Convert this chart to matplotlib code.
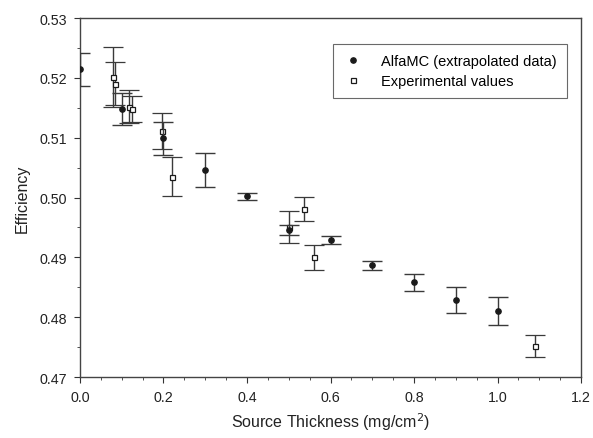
import matplotlib
matplotlib.use("Agg")
import matplotlib.pyplot as plt
from matplotlib.lines import Line2D
from matplotlib.ticker import MultipleLocator, FormatStrFormatter

plt.rcParams['font.family'] = ['Liberation Sans', 'DejaVu Sans']

# AlfaMC (extrapolated data)
mc_x = [0.0, 0.1, 0.2, 0.3, 0.4, 0.5, 0.6, 0.7, 0.8, 0.9, 1.0]
mc_y = [0.5214, 0.5148, 0.5099, 0.5046, 0.5002, 0.4946, 0.4929, 0.4887, 0.4858, 0.4829, 0.4810]
mc_err = [0.0028, 0.0027, 0.0028, 0.0029, 0.0006, 0.0008, 0.0006, 0.00075, 0.0014, 0.0022, 0.0023]

# Experimental values
exp_x = [0.08, 0.083, 0.117, 0.124, 0.197, 0.22, 0.50, 0.537, 0.56, 1.09]
exp_y = [0.5201, 0.5190, 0.5152, 0.5148, 0.5111, 0.5035, 0.4951, 0.4981, 0.4900, 0.4752]
exp_err = [0.0050, 0.0036, 0.0028, 0.0022, 0.0030, 0.0033, 0.0027, 0.0020, 0.0021, 0.0019]

ink = "#1a1a1a"

fig = plt.figure(figsize=(5.93, 4.39), dpi=100)
ax = fig.add_axes([0.1349, 0.1389, 0.8449, 0.8178])

ax.errorbar(exp_x, exp_y, yerr=exp_err, fmt="s", ms=3.6, mfc="white", mec=ink, mew=0.9,
            ecolor="#3a3a3a", elinewidth=1.0, capsize=7.5, capthick=1.0, zorder=3)
ax.errorbar(mc_x, mc_y, yerr=mc_err, fmt="o", ms=3.8, mfc=ink, mec=ink,
            ecolor="#3a3a3a", elinewidth=1.0, capsize=7.5, capthick=1.0, zorder=4)

ax.set_xlim(0, 1.2)
ax.set_ylim(0.47, 0.53)
ax.xaxis.set_major_locator(MultipleLocator(0.2))
ax.xaxis.set_minor_locator(MultipleLocator(0.05))
ax.yaxis.set_major_locator(MultipleLocator(0.01))
ax.yaxis.set_minor_locator(MultipleLocator(0.005))
ax.xaxis.set_major_formatter(FormatStrFormatter("%.1f"))
ax.yaxis.set_major_formatter(FormatStrFormatter("%.2f"))
ax.tick_params(which="both", direction="out", colors="#333333", labelcolor="#222222", labelsize=10.3)
ax.tick_params(which="major", length=4, pad=5)
ax.tick_params(which="minor", length=2.5)
for s in ax.spines.values():
  s.set_color("#444444")
  s.set_linewidth(1.0)

ax.set_xlabel("Source Thickness (mg/cm$^2$)", fontsize=11.5, color="#222222", labelpad=5)
ax.set_ylabel("Efficiency", fontsize=11.5, color="#222222", labelpad=7)

handles = [
  Line2D([], [], ls="none", marker="o", ms=3.8, mfc=ink, mec=ink),
  Line2D([], [], ls="none", marker="s", ms=3.6, mfc="white", mec=ink, mew=0.9),
]
leg = ax.legend(handles, ["AlfaMC (extrapolated data)", "Experimental values"],
                loc="upper left", bbox_to_anchor=(0.505, 0.9276), fontsize=10.5,
                frameon=True, fancybox=False, handlelength=1.4, handletextpad=1.2,
                borderpad=0.7, labelspacing=0.4, borderaxespad=0)
leg.get_frame().set_edgecolor("#444444")
leg.get_frame().set_linewidth(0.8)

fig.savefig("out.png", dpi=100)
